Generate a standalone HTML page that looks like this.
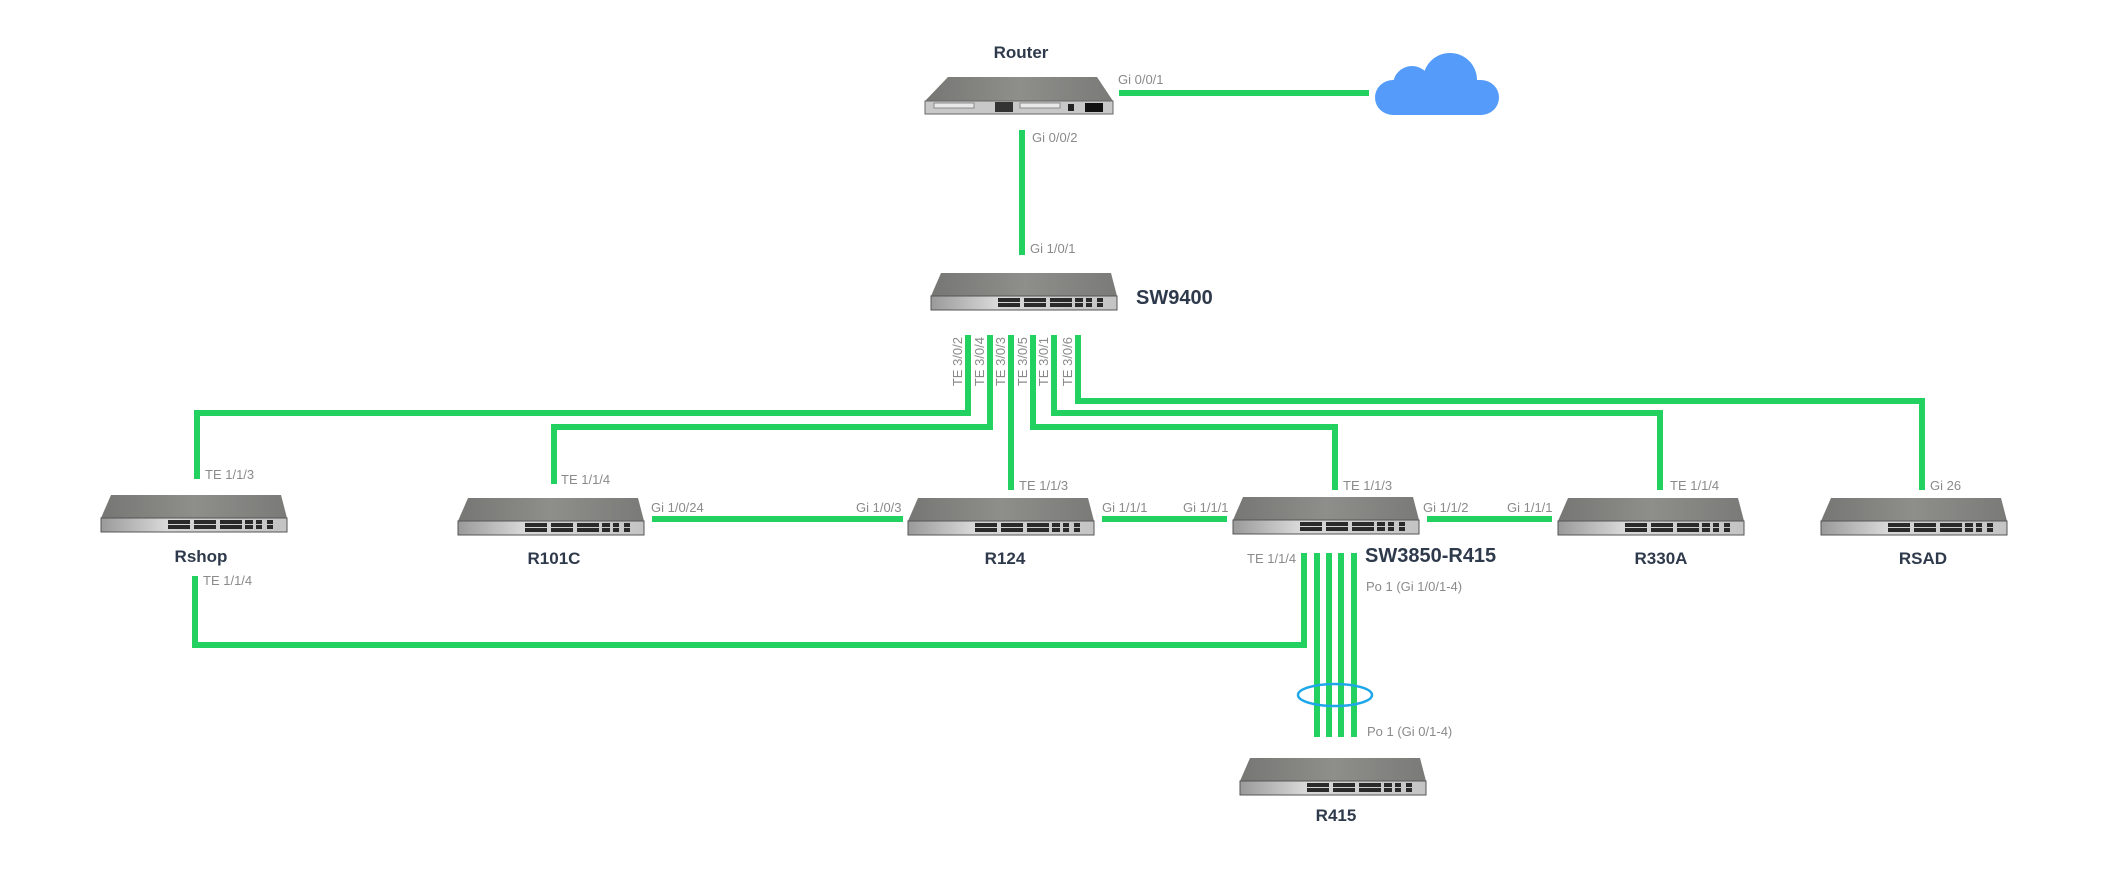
<!DOCTYPE html>
<html><head><meta charset="utf-8"><style>
html,body{margin:0;padding:0;background:#fff;}
svg{display:block;}
.l{font-family:"Liberation Sans",sans-serif;font-size:13px;fill:#8a8a8a;}
.n{font-family:"Liberation Sans",sans-serif;font-size:17px;font-weight:bold;fill:#2e3a4b;}
.nb{font-family:"Liberation Sans",sans-serif;font-size:20px;font-weight:bold;fill:#2e3a4b;}
</style></head><body>
<svg width="2104" height="876" viewBox="0 0 2104 876" xmlns="http://www.w3.org/2000/svg">
<defs>
<linearGradient id="tg" x1="0" y1="0" x2="1" y2="0">
<stop offset="0" stop-color="#767674"/><stop offset="0.5" stop-color="#8e8e8a"/><stop offset="1" stop-color="#7a7a78"/>
</linearGradient>
<linearGradient id="fg" x1="0" y1="0" x2="1" y2="0">
<stop offset="0" stop-color="#9a9a9a"/><stop offset="0.35" stop-color="#d8d8d8"/><stop offset="1" stop-color="#c4c4c4"/>
</linearGradient>
<g id="sw">
<polygon points="10,0 180,0 186,23 0,23" fill="url(#tg)"/>
<rect x="0" y="23" width="186" height="14" fill="url(#fg)" stroke="#555" stroke-width="1"/>
<g fill="#2a2a2a">
<rect x="67" y="25" width="22" height="4"/><rect x="67" y="30" width="22" height="4"/>
<rect x="93" y="25" width="22" height="4"/><rect x="93" y="30" width="22" height="4"/>
<rect x="119" y="25" width="22" height="4"/><rect x="119" y="30" width="22" height="4"/>
<rect x="144" y="25" width="8" height="4"/><rect x="144" y="30" width="8" height="4"/>
<rect x="155" y="25" width="6" height="4"/><rect x="155" y="30" width="6" height="4"/>
<rect x="166" y="25" width="6" height="4"/><rect x="166" y="30" width="6" height="4"/>
</g>
</g>
</defs>

<g stroke="#22d160" stroke-width="6" fill="none">
<line x1="1119" y1="93" x2="1369" y2="93"/>
<line x1="1022" y1="130" x2="1022" y2="255"/>
<polyline points="968,335 968,413 197,413 197,479"/>
<polyline points="990,335 990,427 554,427 554,484"/>
<polyline points="1011,335 1011,490"/>
<polyline points="1033,335 1033,427 1335,427 1335,490"/>
<polyline points="1054,335 1054,413 1660,413 1660,490"/>
<polyline points="1078,335 1078,401 1922,401 1922,490"/>
<polyline points="195,576 195,645 1304,645 1304,553"/>
<line x1="652" y1="519" x2="903" y2="519"/>
<line x1="1102" y1="519" x2="1227" y2="519"/>
<line x1="1427" y1="519" x2="1552" y2="519"/>
<line x1="1317" y1="553" x2="1317" y2="737"/>
<line x1="1329" y1="553" x2="1329" y2="737"/>
<line x1="1341" y1="553" x2="1341" y2="737"/>
<line x1="1354" y1="553" x2="1354" y2="737"/>
</g>
<ellipse cx="1335" cy="695" rx="37" ry="11" fill="none" stroke="#1ea7e8" stroke-width="2.5"/>

<!-- router -->
<polygon points="948,77 1097,77 1113,101 925,101" fill="url(#tg)"/>
<rect x="925" y="101" width="188" height="13" fill="#c8c8c8" stroke="#666" stroke-width="1"/>
<rect x="934" y="103" width="40" height="5" fill="#e8e8e8" stroke="#777" stroke-width="0.8"/>
<rect x="995" y="102" width="18" height="10" fill="#333"/>
<rect x="1020" y="103" width="40" height="5" fill="#e8e8e8" stroke="#777" stroke-width="0.8"/>
<rect x="1068" y="104" width="6" height="7" fill="#222"/>
<rect x="1085" y="103" width="18" height="9" fill="#111"/>

<!-- cloud -->
<g fill="#559bf9">
<circle cx="1450" cy="80" r="27"/>
<circle cx="1412" cy="85" r="19"/>
<rect x="1375" y="80" width="124" height="35" rx="18"/>
</g>

<use href="#sw" x="931" y="273"/>
<use href="#sw" x="101" y="495"/>
<use href="#sw" x="458" y="498"/>
<use href="#sw" x="908" y="498"/>
<use href="#sw" x="1233" y="497"/>
<use href="#sw" x="1558" y="498"/>
<use href="#sw" x="1821" y="498"/>
<use href="#sw" x="1240" y="758"/>

<text class="n" x="1021" y="58" text-anchor="middle">Router</text>
<text class="nb" x="1136" y="304">SW9400</text>
<text class="n" x="201" y="562" text-anchor="middle">Rshop</text>
<text class="n" x="554" y="564" text-anchor="middle">R101C</text>
<text class="n" x="1005" y="564" text-anchor="middle">R124</text>
<text class="nb" x="1365" y="562">SW3850-R415</text>
<text class="n" x="1661" y="564" text-anchor="middle">R330A</text>
<text class="n" x="1923" y="564" text-anchor="middle">RSAD</text>
<text class="n" x="1336" y="821" text-anchor="middle">R415</text>

<text class="l" x="1118" y="84">Gi 0/0/1</text>
<text class="l" x="1032" y="142">Gi 0/0/2</text>
<text class="l" x="1030" y="253">Gi 1/0/1</text>
<g class="l">
<text transform="translate(962,337) rotate(-90)" text-anchor="end">TE 3/0/2</text>
<text transform="translate(984,337) rotate(-90)" text-anchor="end">TE 3/0/4</text>
<text transform="translate(1005,337) rotate(-90)" text-anchor="end">TE 3/0/3</text>
<text transform="translate(1027,337) rotate(-90)" text-anchor="end">TE 3/0/5</text>
<text transform="translate(1048,337) rotate(-90)" text-anchor="end">TE 3/0/1</text>
<text transform="translate(1072,337) rotate(-90)" text-anchor="end">TE 3/0/6</text>
</g>
<text class="l" x="205" y="479">TE 1/1/3</text>
<text class="l" x="203" y="585">TE 1/1/4</text>
<text class="l" x="561" y="484">TE 1/1/4</text>
<text class="l" x="651" y="512">Gi 1/0/24</text>
<text class="l" x="856" y="512">Gi 1/0/3</text>
<text class="l" x="1019" y="490">TE 1/1/3</text>
<text class="l" x="1102" y="512">Gi 1/1/1</text>
<text class="l" x="1183" y="512">Gi 1/1/1</text>
<text class="l" x="1343" y="490">TE 1/1/3</text>
<text class="l" x="1423" y="512">Gi 1/1/2</text>
<text class="l" x="1507" y="512">Gi 1/1/1</text>
<text class="l" x="1670" y="490">TE 1/1/4</text>
<text class="l" x="1930" y="490">Gi 26</text>
<text class="l" x="1247" y="563">TE 1/1/4</text>
<text class="l" x="1366" y="591">Po 1 (Gi 1/0/1-4)</text>
<text class="l" x="1367" y="736">Po 1 (Gi 0/1-4)</text>
</svg>
</body></html>
